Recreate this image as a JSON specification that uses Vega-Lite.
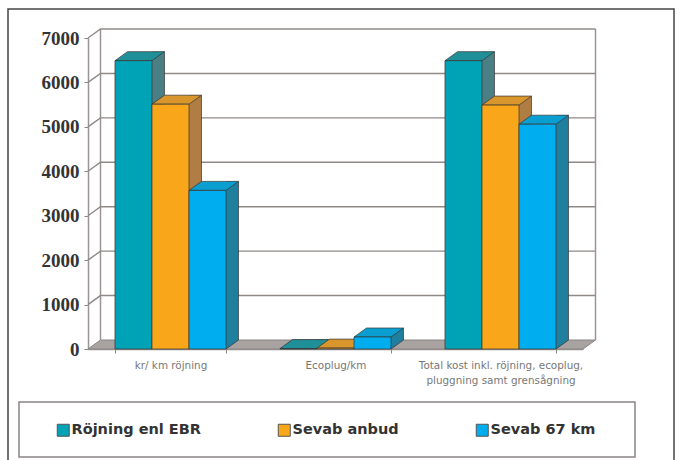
{
"$schema":"https://vega.github.io/schema/vega-lite/v6.json",
"width":495,"height":311,
"autosize":{"type":"none"},
"padding":{"left":88,"top":38,"right":97,"bottom":111},
"background":"white",
"config":{"view":{"stroke":null},"font":"DejaVu Sans"},
"data":{"values":[
{"category":"kr/ km röjning","series":"Röjning enl EBR","value":6490},
{"category":"kr/ km röjning","series":"Sevab anbud","value":5510},
{"category":"kr/ km röjning","series":"Sevab 67 km","value":3570},
{"category":"Ecoplug/km","series":"Röjning enl EBR","value":10},
{"category":"Ecoplug/km","series":"Sevab anbud","value":20},
{"category":"Ecoplug/km","series":"Sevab 67 km","value":270},
{"category":"Total kost inkl. röjning, ecoplug, pluggning samt grensågning","series":"Röjning enl EBR","value":6490},
{"category":"Total kost inkl. röjning, ecoplug, pluggning samt grensågning","series":"Sevab anbud","value":5490},
{"category":"Total kost inkl. röjning, ecoplug, pluggning samt grensågning","series":"Sevab 67 km","value":5060}
]},
"encoding":{
"x":{"field":"category","type":"nominal","sort":["kr/ km röjning","Ecoplug/km","Total kost inkl. röjning, ecoplug, pluggning samt grensågning"],
"scale":{"paddingInner":0.327,"paddingOuter":0.1635},
"axis":{"title":null,"labelAngle":0,"labelFont":"DejaVu Sans","labelFontSize":10.4,"labelColor":"#777","labelPadding":7,"labelLimit":300,"tickBand":"extent","tickColor":"#8a8484","tickSize":4,"domainColor":"#9a9494","domainWidth":1.5,"labelLineHeight":15,
"labelExpr":"length(datum.label)>30 ? ['Total kost inkl. röjning, ecoplug,','pluggning samt grensågning'] : datum.label"}},
"y":{"field":"value","type":"quantitative","scale":{"domain":[0,7000],"nice":false},
"axis":{"title":null,"values":[0,1000,2000,3000,4000,5000,6000,7000],"format":"d","grid":false,"labelFont":"Liberation Serif","labelFontWeight":"bold","labelFontSize":19,"labelColor":"#333","labelPadding":5,"tickColor":"#8a8484","tickSize":4,"domainColor":"#9a9494","domainWidth":1.5}}
},
"resolve":{"scale":{"color":"independent","xOffset":"independent"}},
"layer":[
{"data":{"values":[{"category":"Ecoplug/km","value":0}]},
 "mark":{"type":"point","filled":false,"stroke":"#444","strokeWidth":1.5,"size":4,"opacity":1,"shape":"M-327.5 125 L-327.5 -340 L338.5 -340 L338.5 125"}},
{"data":{"values":[{"category":"Ecoplug/km","value":0}]},
 "mark":{"type":"point","filled":false,"stroke":"#8a8484","strokeWidth":1.5,"size":4,"opacity":1,"shape":"M-316.5 53 L299.5 53 L299.5 108 L-316.5 108 Z"}},
{"data":{"values":[{"category":"Ecoplug/km","value":0}]},
 "mark":{"type":"point","filled":true,"fill":"#a8a2a0","opacity":1,"stroke":"#8a8484","strokeWidth":1,"size":4,"shape":"M-247.5 0 L247.5 0 L260 -9 L-235 -9 Z"}},
{"data":{"values":[{"category":"Ecoplug/km","value":0}]},
 "mark":{"type":"point","filled":false,"stroke":"#9a9494","strokeWidth":1.5,"size":4,"opacity":1,"shape":"M-235 -9 L-235 -320 M260 -9 L260 -320"}},
{"data":{"values":[{"category":"Ecoplug/km","value":1000},{"category":"Ecoplug/km","value":2000},{"category":"Ecoplug/km","value":3000},{"category":"Ecoplug/km","value":4000},{"category":"Ecoplug/km","value":5000},{"category":"Ecoplug/km","value":6000},{"category":"Ecoplug/km","value":7000}]},
 "mark":{"type":"point","filled":false,"stroke":"#8f8a88","strokeWidth":1.4,"size":4,"opacity":1,"shape":"M-247.5 0 L-235 -9 L260 -9"}},
{"mark":{"type":"bar","width":12.5,"yOffset":-9,"y2Offset":-9},
 "encoding":{"xOffset":{"field":"series","sort":["Röjning enl EBR","Sevab anbud","Sevab 67 km"],"scale":{"range":[24.75,135.75]}},
 "y2":{"datum":0},
 "color":{"field":"series","legend":null,"scale":{"domain":["Röjning enl EBR","Sevab anbud","Sevab 67 km"],"range":["#4a7f86","#b07d45","#1f7f9e"]}}}},
{"mark":{"type":"point","filled":true,"opacity":1,"size":4,"shape":"M18.5 -9 L31 -9 L18.5 0 Z"},
 "encoding":{"xOffset":{"field":"series","sort":["Röjning enl EBR","Sevab anbud","Sevab 67 km"]},
 "y":{"datum":0},
 "color":{"field":"series","legend":null,"scale":{"domain":["Röjning enl EBR","Sevab anbud","Sevab 67 km"],"range":["#4a7f86","#b07d45","#1f7f9e"]}}}},
{"mark":{"type":"point","filled":false,"opacity":1,"size":4,"stroke":"#333","strokeWidth":0.7,"shape":"M18.5 0 L31 -9"},
 "encoding":{"xOffset":{"field":"series","sort":["Röjning enl EBR","Sevab anbud","Sevab 67 km"]},
 "y":{"datum":0}}},
{"mark":{"type":"rule","stroke":"#333","strokeWidth":0.7,"yOffset":-9,"y2Offset":-9},
 "encoding":{"xOffset":{"field":"series","sort":["Röjning enl EBR","Sevab anbud","Sevab 67 km"],"scale":{"range":[31,142]}},
 "y2":{"datum":0}}},
{"mark":{"type":"point","filled":true,"opacity":1,"size":4,"stroke":"#333","strokeWidth":0.7,"shape":"M-18.5 0 L18.5 0 L31 -9 L-6 -9 Z"},
 "encoding":{"xOffset":{"field":"series","sort":["Röjning enl EBR","Sevab anbud","Sevab 67 km"]},
 "color":{"field":"series","legend":null,"scale":{"domain":["Röjning enl EBR","Sevab anbud","Sevab 67 km"],"range":["#1f8f98","#d9962c","#0a9fd0"]}}}},
{"mark":{"type":"bar","stroke":"#333","strokeWidth":0.7},
 "encoding":{"xOffset":{"field":"series","sort":["Röjning enl EBR","Sevab anbud","Sevab 67 km"]},
 "y2":{"datum":0},
 "color":{"field":"series","scale":{"domain":["Röjning enl EBR","Sevab anbud","Sevab 67 km"],"range":["#00a3b5","#faa61a","#00aeef"]},
 "legend":{"title":null,"orient":"none","legendX":-32,"legendY":385,"direction":"horizontal","columns":3,"gridAlign":"none","columnPadding":75,"padding":0,"symbolType":"square","symbolSize":144,"symbolStrokeColor":"#555","symbolStrokeWidth":1,"symbolOpacity":1,"labelFont":"DejaVu Sans","labelFontWeight":"bold","labelFontSize":14.5,"labelColor":"#333","labelOffset":1,"labelLimit":200}}}}
]
}
